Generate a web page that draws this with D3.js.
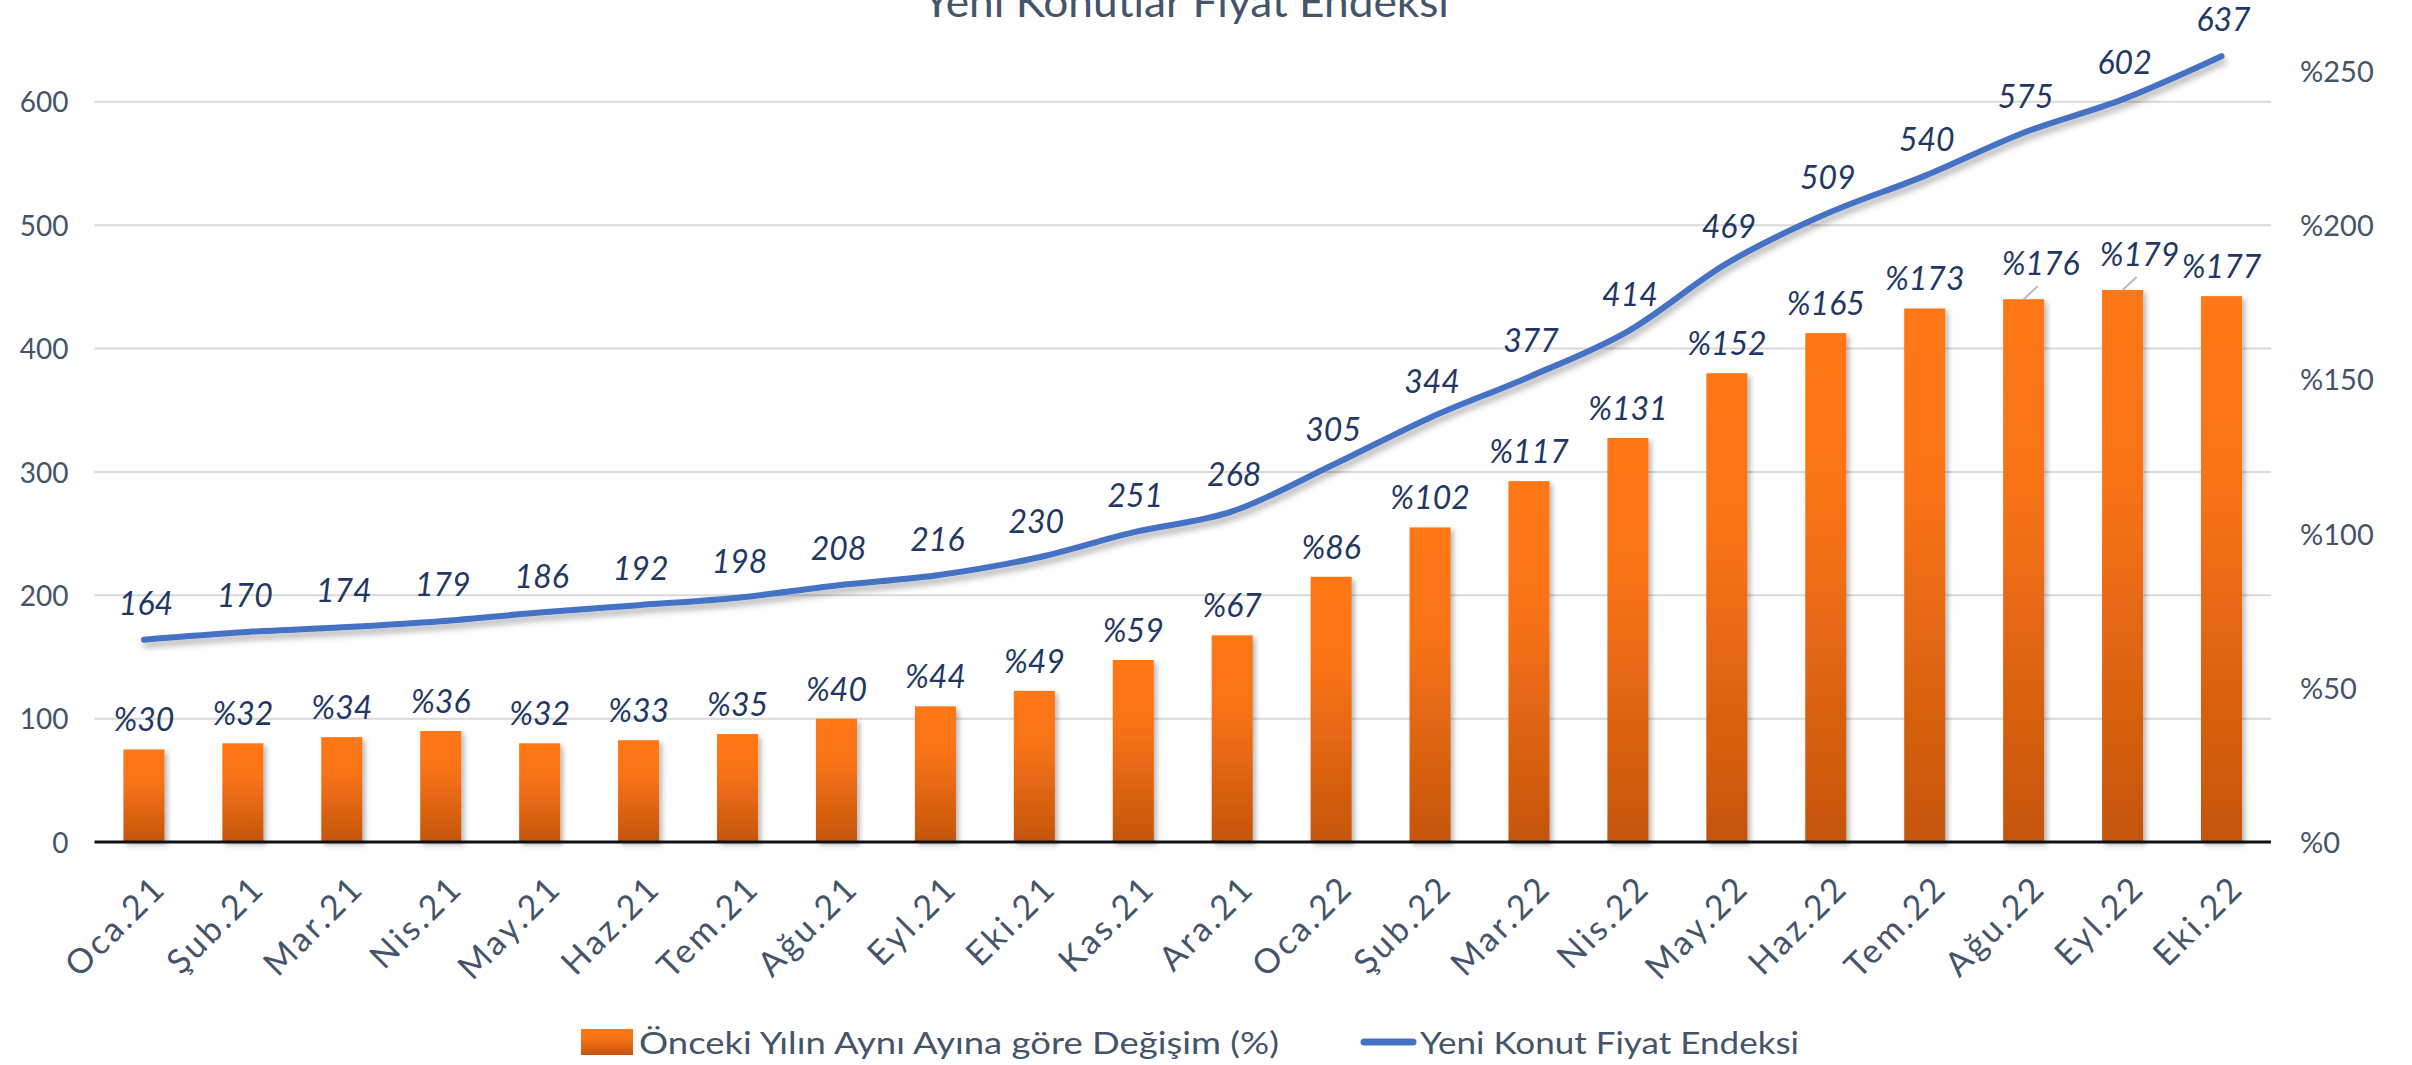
<!DOCTYPE html>
<html>
<head>
<meta charset="utf-8">
<script src="https://cdnjs.cloudflare.com/ajax/libs/d3/7.8.5/d3.min.js"></script>
<style>
  body { margin: 0; background: #fff; }
  svg { display: block; font-family: Lato, "Open Sans", sans-serif; }
</style>
</head>
<body>
<svg width="2412" height="1065"></svg>
<script>
var months = ["Oca.21", "Şub.21", "Mar.21", "Nis.21", "May.21", "Haz.21", "Tem.21", "Ağu.21", "Eyl.21", "Eki.21", "Kas.21", "Ara.21",
              "Oca.22", "Şub.22", "Mar.22", "Nis.22", "May.22", "Haz.22", "Tem.22", "Ağu.22", "Eyl.22", "Eki.22"];
var indexValues = [164, 170, 174, 179, 186, 192, 198, 208, 216, 230, 251, 268,
                   305, 344, 377, 414, 469, 509, 540, 575, 602, 637];
var yoyChange = [30, 32, 34, 36, 32, 33, 35, 40, 44, 49, 59, 67,
                 86, 102, 117, 131, 152, 165, 173, 176, 179, 177];
var leftTicks = [0, 100, 200, 300, 400, 500, 600];
var rightTicks = [0, 50, 100, 150, 200, 250];

var titleText = "Yeni Konutlar Fiyat Endeksi";
var barName = "Önceki Yılın Aynı Ayına göre Değişim (%)";
var lineName = "Yeni Konut Fiyat Endeksi";

var svg = d3.select("svg");
var plotL = 94.5, plotR = 2271, plotT = 71, plotB = 842;

var x = d3.scaleBand().domain(months).range([plotL, plotR])
  .paddingInner(0.585).paddingOuter(0.2925);
var yLeft = d3.scaleLinear().domain([0, 625]).range([plotB, plotT]);
var yRight = d3.scaleLinear().domain([0, 250]).range([plotB, plotT]);

var defs = svg.append("defs");
var grad = defs.append("linearGradient").attr("id", "barGrad")
  .attr("x1", 0).attr("y1", 0).attr("x2", 0).attr("y2", 1);
grad.append("stop").attr("offset", "0%").attr("stop-color", "#FF7713");
grad.append("stop").attr("offset", "35%").attr("stop-color", "#F97314");
grad.append("stop").attr("offset", "100%").attr("stop-color", "#C4550F");

var sh = defs.append("filter").attr("id", "shadow")
  .attr("x", "-20%").attr("y", "-20%").attr("width", "140%").attr("height", "140%");
sh.append("feDropShadow").attr("dx", 3).attr("dy", 3).attr("stdDeviation", 2.5)
  .attr("flood-color", "#000").attr("flood-opacity", 0.28);

var lineSh = defs.append("filter").attr("id", "lineShadow")
  .attr("x", "-5%").attr("y", "-20%").attr("width", "110%").attr("height", "140%");
lineSh.append("feDropShadow").attr("dx", 2).attr("dy", 5).attr("stdDeviation", 3)
  .attr("flood-color", "#000").attr("flood-opacity", 0.3);

// gridlines
svg.append("g").selectAll("line")
  .data(leftTicks.filter(function(d) { return d > 0; }))
  .enter().append("line")
  .attr("x1", plotL).attr("x2", plotR)
  .attr("y1", function(d) { return yLeft(d); })
  .attr("y2", function(d) { return yLeft(d); })
  .style("stroke", "#D9D9D9").style("stroke-width", 2);

// left axis
var leftAxis = svg.append("g").attr("transform", "translate(" + (plotL - 26) + ",0)")
  .call(d3.axisLeft(yLeft).tickValues(leftTicks).tickSize(0).tickPadding(0));
leftAxis.select(".domain").remove();
leftAxis.selectAll("text")
  .attr("dy", "0.36em")
  .style("font-size", "28px").style("font-family", "Lato, sans-serif").style("fill", "#44546A");

// right axis
var rightAxis = svg.append("g").attr("transform", "translate(" + (plotR + 29) + ",0)")
  .call(d3.axisRight(yRight).tickValues(rightTicks).tickSize(0).tickPadding(0)
    .tickFormat(function(d) { return "%" + d; }));
rightAxis.select(".domain").remove();
rightAxis.selectAll("text")
  .attr("dy", "0.36em")
  .style("font-size", "29px").style("font-family", "Lato, sans-serif").style("fill", "#44546A");

// bars
svg.append("g").selectAll("rect")
  .data(yoyChange)
  .enter().append("rect")
  .attr("x", function(d, i) { return x(months[i]); })
  .attr("y", function(d) { return yRight(d); })
  .attr("width", x.bandwidth())
  .attr("height", function(d) { return plotB - yRight(d); })
  .attr("fill", "url(#barGrad)")
  .attr("filter", "url(#shadow)");

// baseline
svg.append("line")
  .attr("x1", plotL).attr("x2", plotR)
  .attr("y1", plotB).attr("y2", plotB)
  .style("stroke", "#111").style("stroke-width", 3);

// line
var line = d3.line()
  .x(function(d, i) { return x(months[i]) + x.bandwidth() / 2; })
  .y(function(d) { return yLeft(d); })
  .curve(d3.curveMonotoneX);

svg.append("path")
  .datum(indexValues)
  .attr("d", line)
  .attr("fill", "none")
  .style("stroke", "#4472C4").style("stroke-width", 6)
  .style("stroke-linecap", "round").style("stroke-linejoin", "round")
  .attr("filter", "url(#lineShadow)");

// bar labels, two of them pushed aside with a leader line
var nudged = [19, 20];
var barLabels = svg.append("g");
yoyChange.forEach(function(d, i) {
  var cx = x(months[i]) + x.bandwidth() / 2;
  var ty = yRight(d);
  var moved = nudged.indexOf(i) >= 0;
  if (moved) {
    barLabels.append("line")
      .attr("x1", cx).attr("y1", ty)
      .attr("x2", cx + 14).attr("y2", ty - 13)
      .style("stroke", "#AFBCCB").style("stroke-width", 2);
  }
  barLabels.append("text")
    .text("%" + d)
    .attr("x", moved ? cx + 17 : cx)
    .attr("y", moved ? ty - 24 : ty - 18)
    .attr("text-anchor", "middle")
    .style("font-size", "32px").style("font-style", "italic")
    .style("fill", "#1F3864");
});

// line labels
svg.append("g").selectAll("text")
  .data(indexValues)
  .enter().append("text")
  .text(function(d) { return d; })
  .attr("x", function(d, i) { return x(months[i]) + x.bandwidth() / 2 + 2; })
  .attr("y", function(d) { return yLeft(d) - 25; })
  .attr("text-anchor", "middle")
  .style("font-size", "32px").style("font-style", "italic")
  .style("fill", "#1F3864");

// x labels
svg.append("g").selectAll("text")
  .data(months)
  .enter().append("text")
  .text(function(d) { return d; })
  .attr("transform", function(d) {
    return "translate(" + (x(d) + x.bandwidth() / 2 + 24) + "," + 890 + ") rotate(-45)";
  })
  .attr("text-anchor", "end")
  .style("font-size", "34px")
  .style("letter-spacing", "3px")
  .style("fill", "#44546A");

// title, cut at the top edge like the original
svg.append("text")
  .text(titleText)
  .attr("x", 1186).attr("y", 17)
  .attr("text-anchor", "middle")
  .attr("textLength", 526).attr("lengthAdjust", "spacingAndGlyphs")
  .style("font-size", "42px").style("fill", "#44546A");

// legend
var legend = svg.append("g");
legend.append("rect")
  .attr("x", 581).attr("y", 1029).attr("width", 52).attr("height", 26)
  .attr("fill", "url(#barGrad)");
legend.append("text")
  .text(barName)
  .attr("x", 639).attr("y", 1054)
  .attr("textLength", 640).attr("lengthAdjust", "spacingAndGlyphs")
  .style("font-size", "31px").style("fill", "#44546A");
legend.append("line")
  .attr("x1", 1364).attr("x2", 1413).attr("y1", 1042).attr("y2", 1042)
  .style("stroke", "#4472C4").style("stroke-width", 7).style("stroke-linecap", "round");
legend.append("text")
  .text(lineName)
  .attr("x", 1420).attr("y", 1054)
  .attr("textLength", 379).attr("lengthAdjust", "spacingAndGlyphs")
  .style("font-size", "31px").style("fill", "#44546A");
</script>
</body>
</html>
